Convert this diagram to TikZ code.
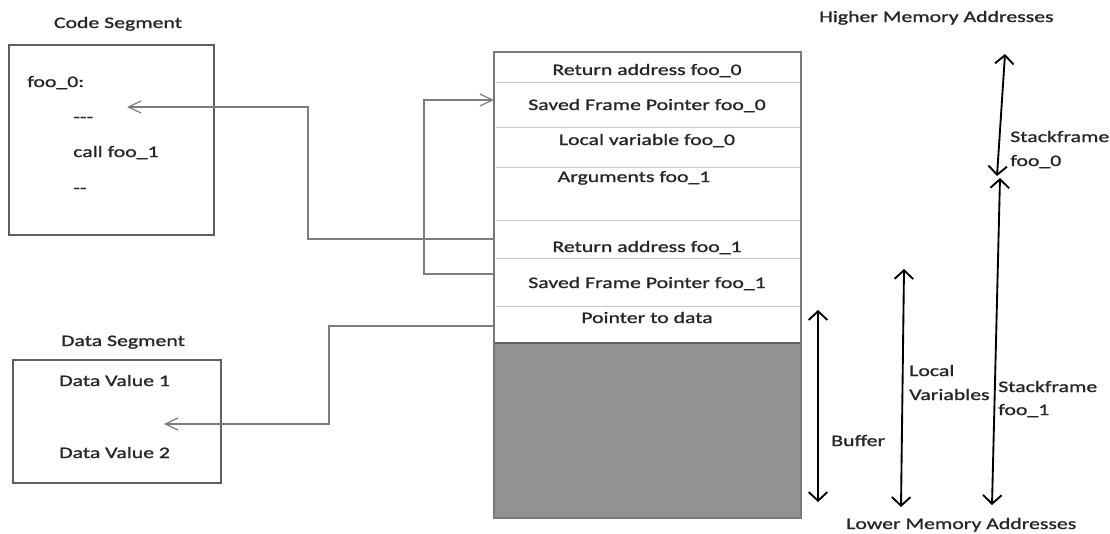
\documentclass[tikz,border=0pt]{standalone}
\usepackage{fontspec}
\setmainfont{Carlito}[FakeStretch=1.36,FakeBold=1.2]
\usetikzlibrary{arrows.meta,fit}
\definecolor{boxline}{RGB}{95,95,95}
\definecolor{stackline}{RGB}{120,120,120}
\definecolor{sepline}{RGB}{200,200,200}
\definecolor{linkgray}{RGB}{125,125,125}
\definecolor{bufgray}{RGB}{146,146,146}
\begin{document}
\begin{tikzpicture}[x=0.75pt,y=-0.75pt,
  lbl/.style={anchor=base west, inner sep=0pt, font=\fontsize{12}{14}\selectfont, text=black!85},
  clbl/.style={lbl, anchor=base},
  segbox/.style={draw=boxline, line width=1.3pt, inner sep=0pt},
  sep/.style={draw=sepline, line width=0.7pt},
  link/.style={draw=linkgray, line width=0.9pt, -{Straight Barb[length=9.5pt,width=9pt]}},
  span/.style={draw=black, line width=1.4pt,
    {Straight Barb[length=6.5pt,width=14pt]}-{Straight Barb[length=6.5pt,width=14pt]}}]
\useasboundingbox (0,0) rectangle (1110,533);

% ---- code segment ----
\node[clbl] (codeT) at (118,28) {Code Segment};
\node[segbox, fit={(9,45) (214,235)}] (code) {};
\node[lbl] (f0) at (27,87) {foo\_0:};
\node[lbl] (d3) at (73,122) {-{}-{}-};
\node[lbl] (cl) at (73,157) {call foo\_1};
\node[lbl] (d2) at (73,193) {-{}-};

% ---- data segment ----
\node[clbl] (dataT) at (123,346) {Data Segment};
\node[segbox, fit={(13,360) (221,483)}] (data) {};
\node[lbl] (dv1) at (59,386) {Data Value 1};
\node[lbl] (dv2) at (59,458) {Data Value 2};

% ---- stack ----
\node[fill=bufgray, draw=boxline, line width=1.2pt, inner sep=0pt, fit={(494,343) (801,518)}] (buffer) {};
\node[draw=stackline, line width=1.1pt, inner sep=0pt, fit={(494,52) (801,518)}] (stack) {};
\foreach \yy in {82,127,167,220,258,306}
  \draw[sep] (496,\yy) -- (800,\yy);
\node[clbl] (ra0)  at (647,75)  {Return address foo\_0};
\node[clbl] (sfp0) at (647,110) {Saved Frame Pointer foo\_0};
\node[clbl] (lv0)  at (647,145) {Local variable foo\_0};
\node[clbl] (arg1) at (634,182) {Arguments foo\_1};
\node[clbl] (ra1)  at (647,252) {Return address foo\_1};
\node[clbl] (sfp1) at (647,288) {Saved Frame Pointer foo\_1};
\node[clbl] (ptr)  at (647,323) {Pointer to data};

% ports of the links
\coordinate (ra1out)  at (494,239);
\coordinate (sfp1out) at (494,274);
\coordinate (sfp0in)  at (494,100);
\coordinate (ptrout)  at (494,326);
\coordinate (codeTgt) at (127,107);
\coordinate (dataTgt) at (164,424);

\draw[link] (ra1out) -- ++(-186,0) |- (codeTgt);
\draw[link] (sfp1out) -- ++(-70,0) |- (sfp0in);
\draw[link] (ptrout) -- ++(-165,0) |- (dataTgt);

% ---- address range markers ----
\node[lbl] (hi) at (819,22)  {Higher Memory Addresses};
\node[lbl] (lo) at (846,529) {Lower Memory Addresses};

\coordinate (bufTop) at (818,310);  \coordinate (bufBot) at (818,502);
\coordinate (lvTop)  at (904,269);  \coordinate (lvBot)  at (901,507);
\coordinate (sf1Top) at (1000,178); \coordinate (sf1Bot) at (992,505);
\coordinate (sf0Top) at (1005,54);  \coordinate (sf0Bot) at (997,176);

\draw[span] (bufTop) -- (bufBot);
\draw[span] (lvTop) -- (lvBot);
\draw[span] (sf1Top) -- (sf1Bot);
\draw[span] (sf0Top) -- (sf0Bot);

\node[lbl] (sf0a) at (1010,142) {Stackframe};
\node[lbl] (sf0b) at (1010,166) {foo\_0};
\node[lbl] (lva)  at (909,376)  {Local};
\node[lbl] (lvb)  at (909,400)  {Variables};
\node[lbl] (sf1a) at (998,392)  {Stackframe};
\node[lbl] (sf1b) at (998,415)  {foo\_1};
\node[lbl] (buf)  at (831,446)  {Buffer};
\end{tikzpicture}
\end{document}
